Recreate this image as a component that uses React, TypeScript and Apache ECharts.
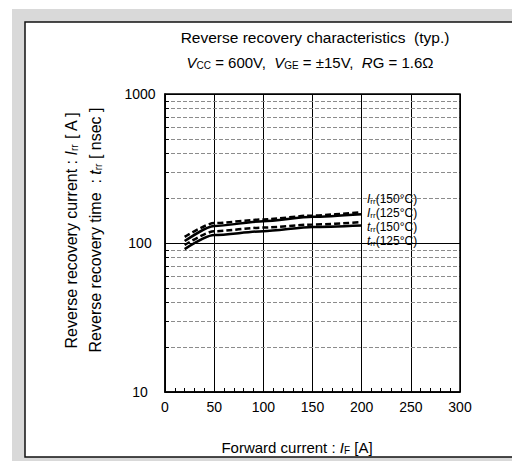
import React, { useEffect, useRef } from "react";
import * as echarts from "echarts";

// Forward current I_F [A]
const currentA = [20, 50, 100, 150, 200];
// Reverse recovery current I_rr [A]
const irr150 = [110, 136, 144, 153, 161];
const irr125 = [103, 130, 140, 150, 156];
// Reverse recovery time t_rr [nsec]
const trr150 = [97, 120, 127, 133, 138];
const trr125 = [91, 113, 120, 128, 131];

const xTicks = [0, 50, 100, 150, 200, 250, 300];
const minorY = [20, 30, 40, 50, 60, 70, 80, 90, 200, 300, 400, 500, 600, 700, 800, 900];

const FONT = "'Liberation Sans', Arial, sans-serif";

const pairs = (ys: number[]) => currentA.map((x, i) => [x, ys[i]]);

const makeRich = (size: number, sub: number, drop: number) => ({
  n: { fontSize: size, fontFamily: FONT, color: "#000" },
  i: { fontSize: size, fontFamily: FONT, fontStyle: "italic", color: "#000" },
  s: { fontSize: sub, fontFamily: FONT, color: "#000", padding: [drop, 0, 0, 0] },
});

const subRich = makeRich(15, 10, 6);
const nameRich = makeRich(16, 10, 7);
const curveRich = makeRich(12, 8, 5);

export default function App() {
  const ref = useRef<HTMLDivElement>(null);

  useEffect(() => {
    document.body.style.margin = "0";
    const chart = echarts.init(ref.current!, null, { renderer: "svg" });

    const lineSeries = (name: string, ys: number[], dashed: boolean) => ({
      name,
      type: "line",
      data: pairs(ys),
      showSymbol: false,
      smooth: 0.25,
      smoothMonotone: "x",
      z: 5,
      lineStyle: { color: "#000", width: 2.5, type: dashed ? [6, 3] : "solid" },
    });

    const curveLabels = [
      { t: "{i|I}{s|rr}{n|(150°C)}", y: 199 },
      { t: "{i|I}{s|rr}{n|(125°C)}", y: 213 },
      { t: "{i|t}{s|rr}{n|(150°C)}", y: 227 },
      { t: "{i|t}{s|rr}{n|(125°C)}", y: 241 },
    ];

    chart.setOption({
      animation: false,
      backgroundColor: "#fff",
      grid: {
        left: 165,
        top: 94,
        right: 52,
        bottom: 69,
        show: true,
        borderColor: "#000",
        borderWidth: 1.5,
        z: 4,
      },
      xAxis: {
        type: "value",
        min: 0,
        max: 300,
        interval: 50,
        axisLine: { show: true, lineStyle: { color: "#000", width: 1.5 } },
        axisTick: { show: true, inside: true, length: 4, lineStyle: { color: "#000" } },
        minorTick: { show: true, splitNumber: 5, length: 4, lineStyle: { color: "#000", width: 1 } },
        splitLine: { show: true, lineStyle: { color: "#000", width: 1 } },
        axisLabel: {
          color: "#000",
          fontSize: 14,
          fontFamily: FONT,
          margin: 8,
          formatter: (v: number) => (xTicks.includes(v) ? String(v) : ""),
        },
      },
      yAxis: {
        type: "log",
        logBase: 10,
        min: 10,
        max: 1000,
        axisLine: { show: true, lineStyle: { color: "#000", width: 1.5 } },
        axisTick: { show: false },
        splitLine: { show: true, lineStyle: { color: "#000", width: 1 } },
        axisLabel: {
          color: "#000",
          fontSize: 14,
          fontFamily: FONT,
          margin: 25,
          align: "center",
          formatter: (v: number) => String(Math.round(v)),
        },
      },
      graphic: [
        { type: "rect", z: -10, silent: true, shape: { x: 12, y: 9, width: 520, height: 470 }, style: { fill: "#d9d9d9" } },
        {
          type: "rect",
          z: -9,
          silent: true,
          shape: { x: 25, y: 22, width: 520, height: 435 },
          style: { fill: "#fff", stroke: "#111", lineWidth: 1.5 },
        },
        {
          type: "text",
          x: 315,
          y: 37,
          style: {
            text: "Reverse recovery characteristics  (typ.)",
            font: `15.5px ${FONT}`,
            fill: "#000",
            align: "center",
            verticalAlign: "middle",
          },
        },
        {
          type: "text",
          x: 310,
          y: 62,
          style: {
            text: "{i|V}{s|CC}{n| = 600V,  }{i|V}{s|GE}{n| = ±15V,  }{i|R}{n|G = 1.6Ω}",
            rich: subRich,
            align: "center",
            verticalAlign: "middle",
          },
        },
        {
          type: "text",
          x: 71,
          y: 230,
          rotation: Math.PI / 2,
          style: {
            text: "{n|Reverse recovery current : }{i|I}{s|rr}{n| [ A ]}",
            rich: nameRich,
            align: "center",
            verticalAlign: "middle",
          },
        },
        {
          type: "text",
          x: 95,
          y: 230,
          rotation: Math.PI / 2,
          style: {
            text: "{n|Reverse recovery time  : }{i|t}{s|rr}{n| [ nsec ]}",
            rich: nameRich,
            align: "center",
            verticalAlign: "middle",
          },
        },
        {
          type: "text",
          x: 297,
          y: 447,
          style: {
            text: "{n|Forward current : }{i|I}{s|F}{n| [A]}",
            rich: subRich,
            align: "center",
            verticalAlign: "middle",
          },
        },
        ...curveLabels.map((c) => ({
          type: "text",
          x: 367,
          y: c.y,
          z: 10,
          style: { text: c.t, rich: curveRich, align: "left", verticalAlign: "middle" },
        })),
      ],
      series: [
        {
          ...lineSeries("Irr 150°C", irr150, true),
          markLine: {
            silent: true,
            symbol: "none",
            label: { show: false },
            z: 1,
            data: [
              ...minorY.map((v) => ({ yAxis: v, lineStyle: { color: "#8c8c8c", width: 1, type: [4, 2] } })),
              ...minorY.map((v) => [
                { coord: [0, v], lineStyle: { color: "#000", width: 1, type: "solid" } },
                { coord: [4, v] },
              ]),
            ],
          },
        },
        lineSeries("Irr 125°C", irr125, false),
        lineSeries("trr 150°C", trr150, true),
        lineSeries("trr 125°C", trr125, false),
      ],
    });

    return () => chart.dispose();
  }, []);

  return (
    <div
      ref={ref}
      style={{ position: "fixed", left: 0, top: 0, width: 512, height: 461 }}
    />
  );
}
